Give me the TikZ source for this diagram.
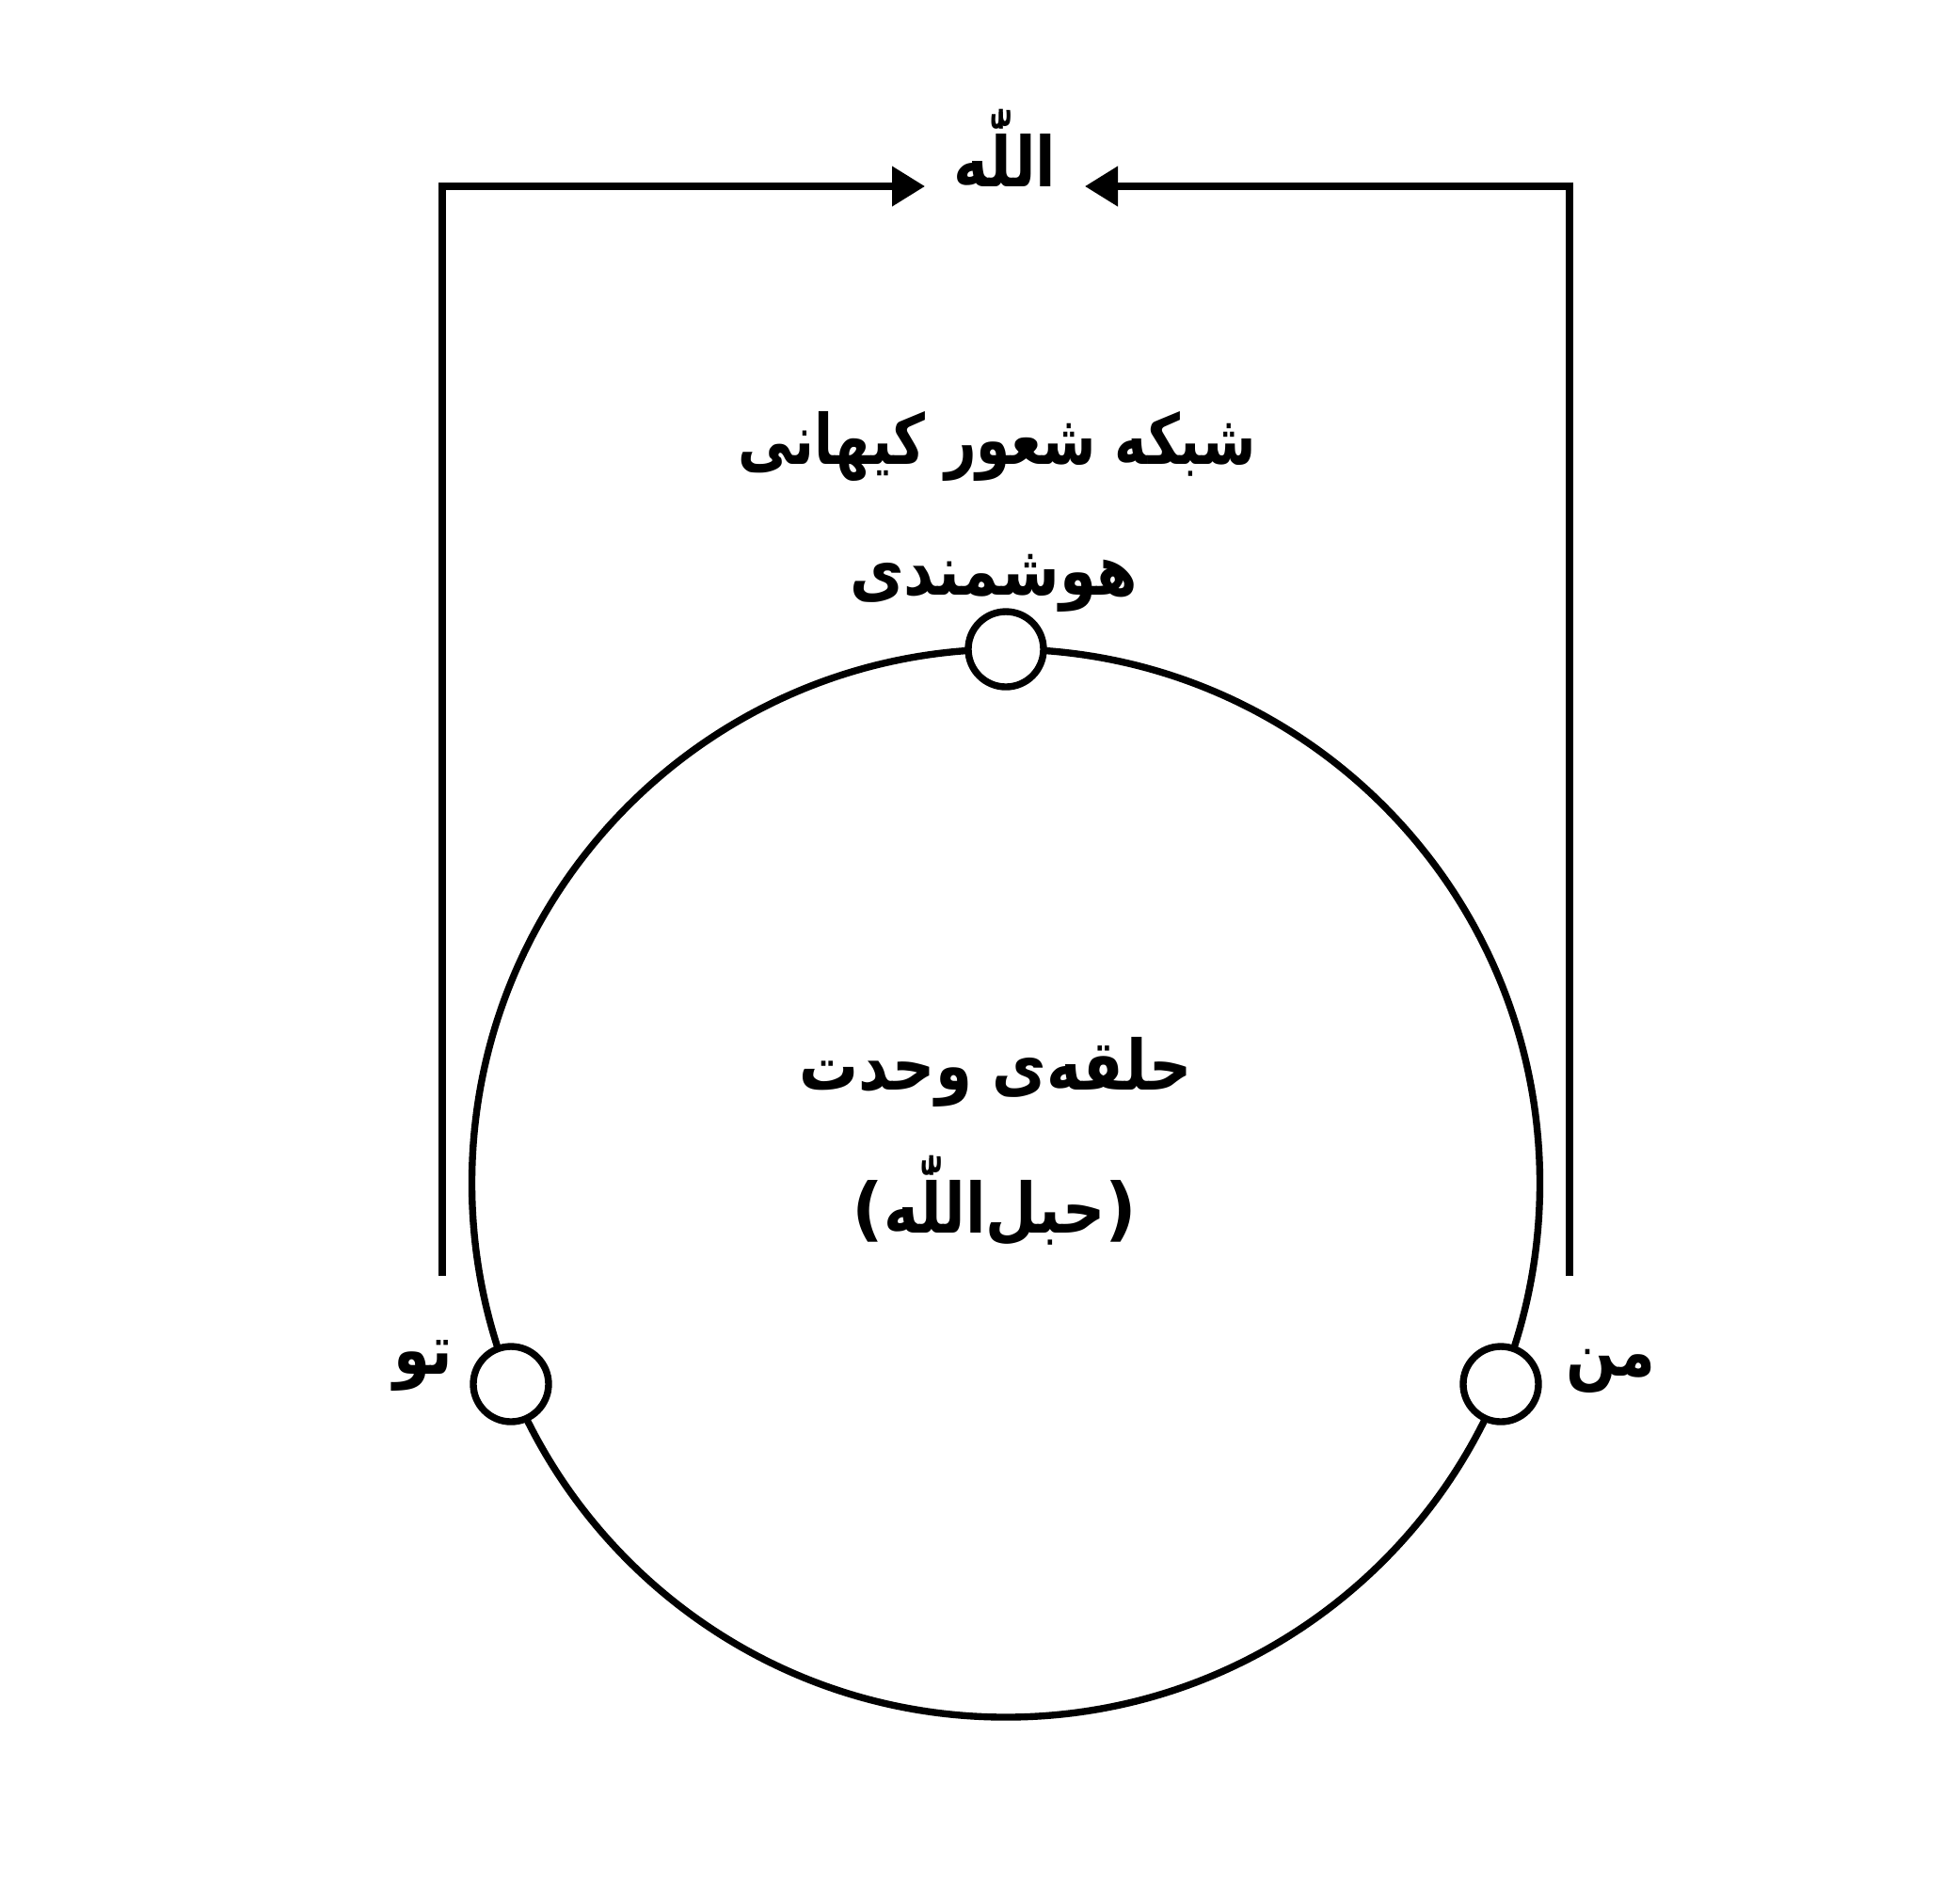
\documentclass[tikz,border=0pt]{standalone}
\usepackage{fontspec}
\newfontfamily\arabicfont[Script=Arabic, FakeStretch=0.85]{DejaVu Sans}
\newfontfamily\narrowfont[Script=Arabic, FakeStretch=0.79]{DejaVu Sans}
\newfontfamily\parenfont{DejaVu Sans}
\TeXXeTstate=1
\usetikzlibrary{positioning, arrows.meta}

\begin{document}
\begin{tikzpicture}[
    line width=2.1pt,
    ring/.style={draw, circle, minimum size=11.35cm, inner sep=0pt, outer sep=0pt},
    dot/.style={draw, circle, fill=white, minimum size=0.8cm, inner sep=0pt, outer sep=0pt},
    lbl/.style={font=\arabicfont\bfseries\fontsize{21}{25}\selectfont, anchor=base, inner sep=0pt},
    arr/.style={-{Triangle[length=0.35cm, width=0.41cm]}}
]
    \useasboundingbox (0,0) rectangle (20.83,-19.96);

    % the ring and its three points
    \node[ring] (ring) at (10.69,-12.575) {};
    \node[dot] (hub) at (ring.north) {};
    \node[dot] (you) at (5.43,-14.71) {};
    \node[dot] (me) at (15.95,-14.71) {};

    % top
    \node[lbl, minimum width=1.70cm, outer sep=0pt] (allah) at (10.68,-1.98) {\beginR اللّٰه\endR};

    % texts
    \node[lbl, font=\narrowfont\bfseries\fontsize{21}{25}\selectfont] (net) at (10.60,-4.93) {\beginR شبکه شعور کیهانی\endR};
    \node[lbl] (smart) at (10.56,-6.32) {\beginR هوشمندی\endR};
    \node[lbl] (unity) at (10.58,-11.58) {\beginR حلقه‌ی وحدت\endR};
    \node[lbl] (rope) at (10.57,-13.10) {{\parenfont(}\beginR حبل‌اللّٰه\endR{\parenfont)}};
    \node[lbl] (tu) at (4.50,-14.60) {\beginR تو\endR};
    \node[lbl] (man) at (17.12,-14.62) {\beginR من\endR};

    % arrows up to the top
    \coordinate (lbot) at (4.70,-13.56);
    \coordinate (rbot) at (16.68,-13.56);
    \draw[arr] (lbot) |- (allah.base west);
    \draw[arr] (rbot) |- (allah.base east);

\end{tikzpicture}
\end{document}
